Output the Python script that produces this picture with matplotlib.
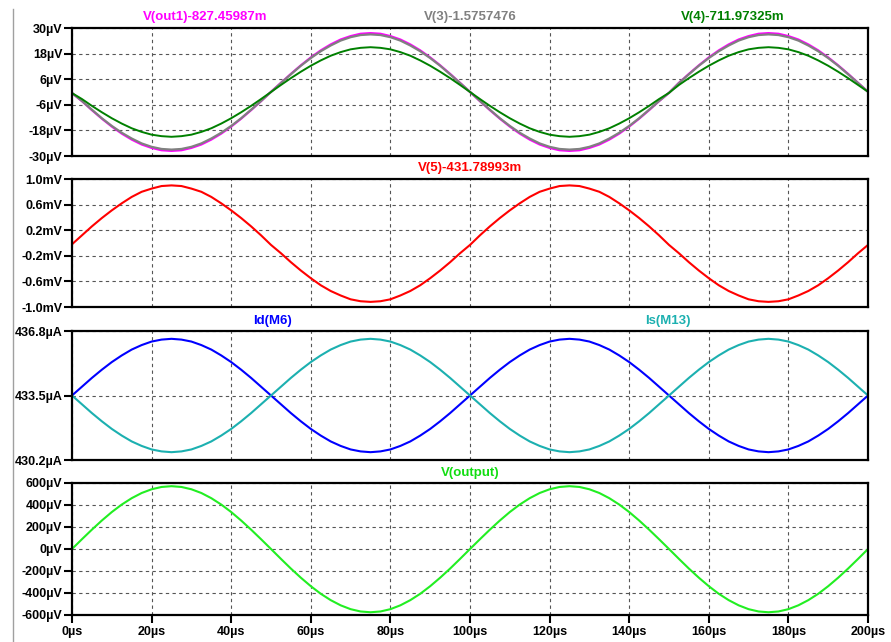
import matplotlib
matplotlib.use("Agg")
import matplotlib.pyplot as plt
from matplotlib.lines import Line2D

plt.rcParams['font.family'] = ['Liberation Sans', 'DejaVu Sans']

# time axis (µs)
t_us = [0, 2.5, 5, 7.5, 10, 12.5, 15, 17.5, 20, 22.5, 25, 27.5, 30, 32.5, 35, 37.5, 40, 42.5, 45, 47.5,
        50, 52.5, 55, 57.5, 60, 62.5, 65, 67.5, 70, 72.5, 75, 77.5, 80, 82.5, 85, 87.5, 90, 92.5, 95, 97.5,
        100, 102.5, 105, 107.5, 110, 112.5, 115, 117.5, 120, 122.5, 125, 127.5, 130, 132.5, 135, 137.5,
        140, 142.5, 145, 147.5, 150, 152.5, 155, 157.5, 160, 162.5, 165, 167.5, 170, 172.5, 175, 177.5,
        180, 182.5, 185, 187.5, 190, 192.5, 195, 197.5, 200]

# panel 1 (µV)
v_out1 = [-0.5, -4.3, -8.5, -12.5, -16.2, -19.5, -22.3, -24.6, -26.2, -27.3, -27.6, -27.3, -26.2, -24.6, -22.3, -19.5, -16.2, -12.5, -8.5, -4.3, 0.1,
          4.3, 8.5, 12.5, 16.2, 19.5, 22.3, 24.6, 26.2, 27.3, 27.6, 27.3, 26.2, 24.6, 22.3, 19.5, 16.2, 12.5, 8.5, 4.3, 0.0,
          -4.3, -8.5, -12.5, -16.2, -19.5, -22.3, -24.6, -26.2, -27.3, -27.6, -27.3, -26.2, -24.6, -22.3, -19.5, -16.2, -12.5, -8.5, -4.3, -0.4,
          4.3, 8.5, 12.5, 16.2, 19.5, 22.3, 24.6, 26.2, 27.3, 27.6, 27.3, 26.2, 24.6, 22.3, 19.5, 16.2, 12.5, 8.5, 4.3, 0.1]
v_3 = [-0.5, -4.2, -8.3, -12.3, -15.9, -19.1, -21.8, -24.1, -25.7, -26.7, -27.0, -26.7, -25.7, -24.1, -21.8, -19.1, -15.9, -12.3, -8.3, -4.2, 0.0,
       4.2, 8.3, 12.3, 15.9, 19.1, 21.8, 24.1, 25.7, 26.7, 27.0, 26.7, 25.7, 24.1, 21.8, 19.1, 15.9, 12.3, 8.3, 4.2, 0.1,
       -4.2, -8.3, -12.3, -15.9, -19.1, -21.8, -24.1, -25.7, -26.7, -27.0, -26.7, -25.7, -24.1, -21.8, -19.1, -15.9, -12.3, -8.3, -4.2, -0.4,
       4.2, 8.3, 12.3, 15.9, 19.1, 21.8, 24.1, 25.7, 26.7, 27.0, 26.7, 25.7, 24.1, 21.8, 19.1, 15.9, 12.3, 8.3, 4.2, 0.1]
v_4 = [-0.5, -3.3, -6.5, -9.5, -12.3, -14.8, -17.0, -18.7, -20.0, -20.7, -21.0, -20.7, -20.0, -18.7, -17.0, -14.8, -12.3, -9.5, -6.5, -3.3, 0.0,
       3.3, 6.5, 9.5, 12.3, 14.8, 17.0, 18.7, 20.0, 20.7, 21.0, 20.7, 20.0, 18.7, 17.0, 14.8, 12.3, 9.5, 6.5, 3.3, 0.0,
       -3.3, -6.5, -9.5, -12.3, -14.8, -17.0, -18.7, -20.0, -20.7, -21.0, -20.7, -20.0, -18.7, -17.0, -14.8, -12.3, -9.5, -6.5, -3.3, -0.4,
       3.3, 6.5, 9.5, 12.3, 14.8, 17.0, 18.7, 20.0, 20.7, 21.0, 20.7, 20.0, 18.7, 17.0, 14.8, 12.3, 9.5, 6.5, 3.3, 0.1]

# panel 2 (mV)
v_5 = [-0.02, 0.12, 0.26, 0.39, 0.51, 0.62, 0.72, 0.80, 0.85, 0.89, 0.90, 0.89, 0.85, 0.80, 0.72, 0.62, 0.51, 0.39, 0.26, 0.12, -0.03,
       -0.16, -0.30, -0.43, -0.55, -0.66, -0.75, -0.82, -0.88, -0.91, -0.92, -0.91, -0.88, -0.82, -0.75, -0.66, -0.55, -0.43, -0.30, -0.16, -0.03,
       0.12, 0.26, 0.39, 0.51, 0.62, 0.72, 0.80, 0.85, 0.89, 0.90, 0.89, 0.85, 0.80, 0.72, 0.62, 0.51, 0.39, 0.26, 0.12, -0.03,
       -0.16, -0.30, -0.43, -0.55, -0.66, -0.75, -0.82, -0.88, -0.91, -0.92, -0.91, -0.88, -0.82, -0.75, -0.66, -0.55, -0.43, -0.30, -0.16, -0.03]

# panel 3 (µA)
id_m6 = [433.50, 433.95, 434.40, 434.82, 435.21, 435.55, 435.85, 436.08, 436.26, 436.36, 436.40, 436.36, 436.26, 436.08, 435.85, 435.55, 435.21, 434.82, 434.40, 433.95, 433.50,
         433.05, 432.60, 432.18, 431.79, 431.45, 431.15, 430.92, 430.74, 430.64, 430.60, 430.64, 430.74, 430.92, 431.15, 431.45, 431.79, 432.18, 432.60, 433.05, 433.50,
         433.95, 434.40, 434.82, 435.21, 435.55, 435.85, 436.08, 436.26, 436.36, 436.40, 436.36, 436.26, 436.08, 435.85, 435.55, 435.21, 434.82, 434.40, 433.95, 433.50,
         433.05, 432.60, 432.18, 431.79, 431.45, 431.15, 430.92, 430.74, 430.64, 430.60, 430.64, 430.74, 430.92, 431.15, 431.45, 431.79, 432.18, 432.60, 433.05, 433.50]
is_m13 = [433.50, 433.05, 432.60, 432.18, 431.79, 431.45, 431.15, 430.92, 430.74, 430.64, 430.60, 430.64, 430.74, 430.92, 431.15, 431.45, 431.79, 432.18, 432.60, 433.05, 433.50,
          433.95, 434.40, 434.82, 435.21, 435.55, 435.85, 436.08, 436.26, 436.36, 436.40, 436.36, 436.26, 436.08, 435.85, 435.55, 435.21, 434.82, 434.40, 433.95, 433.50,
          433.05, 432.60, 432.18, 431.79, 431.45, 431.15, 430.92, 430.74, 430.64, 430.60, 430.64, 430.74, 430.92, 431.15, 431.45, 431.79, 432.18, 432.60, 433.05, 433.50,
          433.95, 434.40, 434.82, 435.21, 435.55, 435.85, 436.08, 436.26, 436.36, 436.40, 436.36, 436.26, 436.08, 435.85, 435.55, 435.21, 434.82, 434.40, 433.95, 433.50]

# panel 4 (µV)
v_output = [0, 89, 176, 259, 336, 404, 462, 509, 543, 564, 571, 564, 543, 509, 462, 404, 336, 259, 176, 89, 0,
            -90, -178, -261, -338, -407, -465, -512, -547, -568, -575, -568, -547, -512, -465, -407, -338, -261, -178, -90, 0,
            89, 176, 259, 336, 404, 462, 509, 543, 564, 571, 564, 543, 509, 462, 404, 336, 259, 176, 89, 0,
            -90, -178, -261, -338, -407, -465, -512, -547, -568, -575, -568, -547, -512, -465, -407, -338, -261, -178, -90, 0]

x_ticks = [0, 20, 40, 60, 80, 100, 120, 140, 160, 180, 200]
x_labels = ["0µs", "20µs", "40µs", "60µs", "80µs", "100µs", "120µs", "140µs", "160µs", "180µs", "200µs"]

p1_ticks = [30, 18, 6, -6, -18, -30]
p1_labels = ["30µV", "18µV", "6µV", "-6µV", "-18µV", "-30µV"]
p2_ticks = [1.0, 0.6, 0.2, -0.2, -0.6, -1.0]
p2_labels = ["1.0mV", "0.6mV", "0.2mV", "-0.2mV", "-0.6mV", "-1.0mV"]
p3_ticks = [436.8, 433.5, 430.2]
p3_labels = ["436.8µA", "433.5µA", "430.2µA"]
p4_ticks = [600, 400, 200, 0, -200, -400, -600]
p4_labels = ["600µV", "400µV", "200µV", "0µV", "-200µV", "-400µV", "-600µV"]

W, H = 891, 642
fig = plt.figure(figsize=(W / 100, H / 100), dpi=100)


def px_axes(top, bottom, left=72, right=868):
    return fig.add_axes([left / W, 1 - bottom / H, (right - left) / W, (bottom - top) / H])


def style(ax, ticks, labels, lo, hi, show_x=False):
    ax.set_xlim(0, 200)
    ax.set_ylim(lo, hi)
    ax.set_xticks(x_ticks)
    ax.set_yticks(ticks)
    ax.set_yticklabels(labels, fontsize=9, fontweight='bold')
    if show_x:
        ax.set_xticklabels(x_labels, fontsize=9, fontweight='bold')
        ax.tick_params(axis='x', direction='out', length=6, width=1.5, pad=2)
    else:
        ax.tick_params(axis='x', length=0, labelbottom=False)
    ax.tick_params(axis='y', direction='out', length=6, width=1.5, pad=1)
    ax.grid(True, color='#555555', linestyle=(0, (3, 3)), linewidth=0.8)
    for s in ax.spines.values():
        s.set_linewidth(1.6)
        s.set_zorder(5)


def title(x, y, txt, color):
    fig.text(x / W, 1 - y / H, txt, color=color, fontsize=9.5, fontweight='bold',
             ha='center', va='center')


c_mag = '#ff00ff'
c_gray = '#808080'
c_dgreen = '#008000'
c_red = '#ff0000'
c_blue = '#0000ff'
c_cyan = '#1cb0b0'
c_green = '#22ee22'

ax1 = px_axes(28, 156)
ax1.plot(t_us, v_out1, color=c_mag, lw=1.6)
ax1.plot(t_us, v_3, color=c_gray, lw=1.6)
ax1.plot(t_us, v_4, color=c_dgreen, lw=1.4)
style(ax1, p1_ticks, p1_labels, -30, 30)

ax2 = px_axes(179, 307)
ax2.plot(t_us, v_5, color=c_red, lw=1.5)
style(ax2, p2_ticks, p2_labels, -1.0, 1.0)

ax3 = px_axes(331, 460)
ax3.plot(t_us, id_m6, color=c_blue, lw=1.5)
ax3.plot(t_us, is_m13, color=c_cyan, lw=1.5)
style(ax3, p3_ticks, p3_labels, 430.2, 436.8)

ax4 = px_axes(483, 615)
ax4.plot(t_us, v_output, color=c_green, lw=1.5)
style(ax4, p4_ticks, p4_labels, -600, 600, show_x=True)

title(205, 17, "V(out1)-827.45987m", c_mag)
title(470, 17, "V(3)-1.5757476", c_gray)
title(733, 17, "V(4)-711.97325m", c_dgreen)
title(470, 168, "V(5)-431.78993m", c_red)
title(272, 321, "Id(M6)", c_blue)
title(668, 321, "Is(M13)", c_cyan)
title(470, 473, "V(output)", '#11dd11')

# window border on the left
fig.add_artist(Line2D([13 / W, 13 / W], [0, 1 - 9 / H], color='#a0a0a0', lw=1.0,
                      transform=fig.transFigure))

fig.savefig("out.png", dpi=100)
